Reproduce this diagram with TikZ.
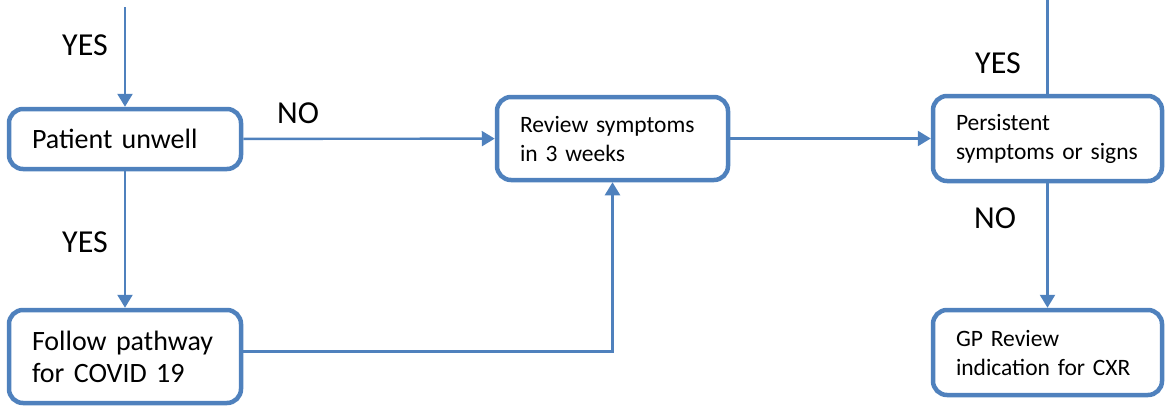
\documentclass[tikz,border=0pt]{standalone}
\usepackage{fontspec}
\setmainfont{Carlito}
\usetikzlibrary{arrows.meta}
\definecolor{flowblue}{RGB}{79,129,189}

\begin{document}
\begin{tikzpicture}[x=1pt,y=-1pt,
    box/.style={draw=flowblue, line width=4.5pt, rounded corners=14pt, align=left,
      inner xsep=23pt, inner ysep=0pt},
    bigtext/.style={font=\fontsize{28}{32}\selectfont},
    smalltext/.style={font=\fontsize{23.5}{29}\selectfont},
    link/.style={draw=flowblue, line width=2.4pt, -{Triangle[length=13pt,width=15pt]}},
    plain/.style={draw=flowblue, line width=2.4pt},
    answer/.style={font=\fontsize{32}{36}\selectfont, inner sep=0pt}]
    \useasboundingbox (0,0) rectangle (1167,407);

    \node[box, bigtext, text width=186pt, minimum height=60pt] (unwell) at (125,139) {Patient unwell};
    \node[box, smalltext, text width=185pt, minimum height=83pt] (review) at (612.5,138.5) {Review symptoms\\in 3 weeks};
    \node[box, smalltext, text width=183pt, minimum height=85pt] (persist) at (1047.5,138.5) {Persistent\\symptoms or signs};
    \node[box, bigtext, text width=186pt, minimum height=93pt] (covid) at (125,356.5) {Follow pathway\\for COVID 19};
    \node[box, smalltext, text width=183pt, minimum height=85pt] (gp) at (1047.5,352.5) {GP Review\\indication for CXR};

    \coordinate (start) at (125,7);
    \coordinate (exit) at (1047.5,0);

    \draw[link] (start) -- (unwell);
    \draw[plain] (persist) -- (exit);
    \draw[link] (unwell) -- (review);
    \draw[link] (review) -- (persist);
    \draw[link] (unwell) -- (covid);
    \draw[link] (persist) -- (gp);
    \draw[link] ([yshift=5pt]covid.east) -| (review.south);

    % answers on the arrows
    \node[answer] (yes1) at (85,45) {YES};
    \node[answer] (no1) at (298,113) {NO};
    \node[answer] (yes2) at (85,242) {YES};
    \node[answer] (yes3) at (998,63) {YES};
    \node[answer] (no2) at (995,218) {NO};
\end{tikzpicture}
\end{document}
